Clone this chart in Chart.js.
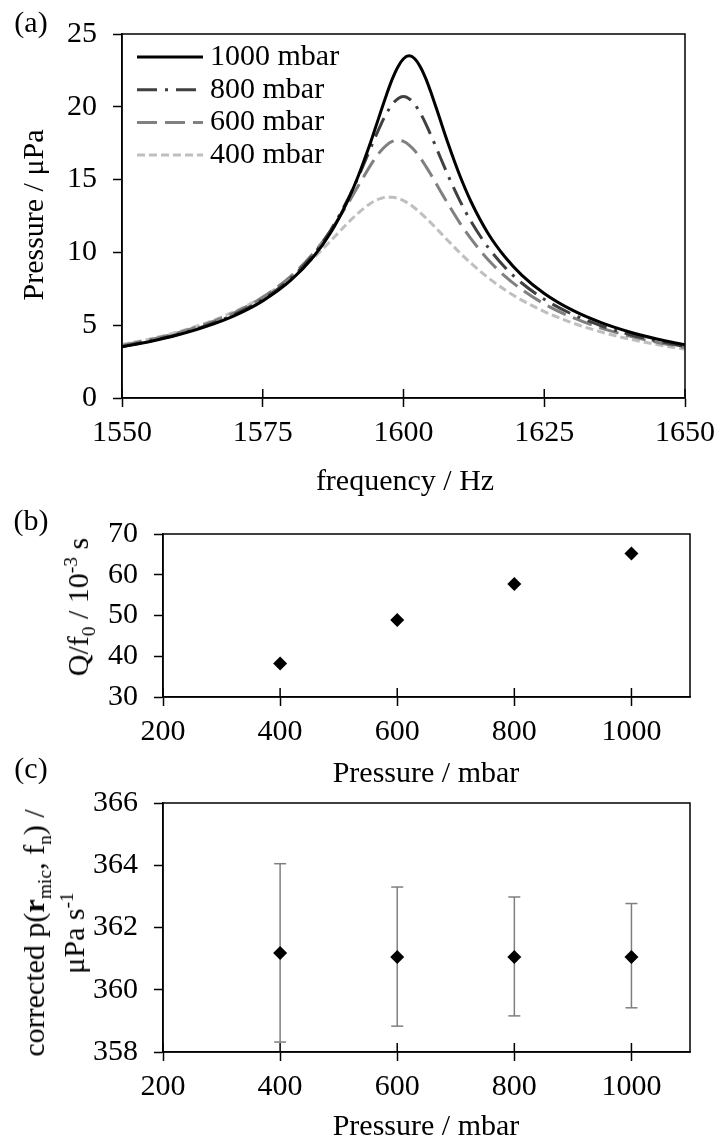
<!DOCTYPE html>
<html>
<head>
<meta charset="utf-8">
<title>Resonance vs pressure</title>
<script src="https://cdn.jsdelivr.net/npm/chart.js@4.4.1/dist/chart.umd.min.js"></script>
<style>
  html, body { margin: 0; padding: 0; background: #fff; }
  body { width: 723px; height: 1144px; position: relative; overflow: hidden;
         font-family: "Liberation Serif", "Times New Roman", serif; color: #000; }
  canvas { position: absolute; left: 0; }
  .lbl { position: absolute; font-size: 30px; line-height: 1; white-space: nowrap;
         transform: translate(-50%, -50%); }
  .rot { transform: translate(-50%, -50%) rotate(-90deg); text-align: center; }
  sub, sup { font-size: 0.65em; line-height: 0; }
</style>
</head>
<body>
<canvas id="chartA" width="723" height="500" style="top:0"></canvas>
<canvas id="chartB" width="723" height="260" style="top:500px"></canvas>
<canvas id="chartC" width="723" height="384" style="top:760px"></canvas>

<div class="lbl" style="left:31px;top:22px">(a)</div>
<div class="lbl" style="left:31px;top:520px">(b)</div>
<div class="lbl" style="left:31px;top:768px">(c)</div>

<div class="lbl rot" style="left:33px;top:215px">Pressure / μPa</div>
<div class="lbl" style="left:405px;top:480px">frequency / Hz</div>

<div class="lbl rot" style="left:78px;top:607px">Q/f<sub>0</sub> / 10<sup>-3</sup> s</div>
<div class="lbl" style="left:426px;top:772px">Pressure / mbar</div>

<div class="lbl rot" style="left:54px;top:933px;line-height:40px">corrected p(<b>r</b><sub>mic</sub>, f<sub>n</sub>) /<br>μPa s<sup>-1</sup></div>
<div class="lbl" style="left:426px;top:1125px">Pressure / mbar</div>

<script>
// --- Datos del panel (a): espectros de resonancia ---
const freq = [1550, 1555, 1560, 1565, 1570, 1575, 1580, 1584, 1587, 1590, 1592, 1594,
              1595, 1596, 1597, 1598, 1599, 1600, 1601, 1602, 1603, 1604, 1605, 1606,
              1608, 1610, 1612, 1615, 1618, 1621, 1625, 1630, 1635, 1640, 1645, 1650];
const p1000 = [3.51, 3.88, 4.34, 4.92, 5.66, 6.67, 8.09, 9.70, 11.32, 13.48, 15.28, 17.39,
               18.54, 19.71, 20.85, 21.90, 22.74, 23.30, 23.50, 23.30, 22.74, 21.90, 20.85, 19.71,
               17.39, 15.28, 13.48, 11.32, 9.70, 8.44, 7.18, 6.03, 5.19, 4.55, 4.05, 3.65];
const p800 = [3.54, 3.92, 4.38, 4.98, 5.75, 6.78, 8.23, 9.86, 11.49, 13.56, 15.21, 17.02,
              17.93, 18.80, 19.56, 20.17, 20.56, 20.70, 20.56, 20.17, 19.56, 18.80, 17.93, 17.02,
              15.21, 13.56, 12.12, 10.36, 8.98, 7.90, 6.78, 5.75, 4.98, 4.38, 3.92, 3.54];
const p600 = [3.61, 4.00, 4.48, 5.09, 5.87, 6.92, 8.37, 9.95, 11.46, 13.27, 14.59, 15.89,
              16.48, 16.98, 17.37, 17.62, 17.70, 17.62, 17.37, 16.98, 16.48, 15.89, 15.26, 14.59,
              13.27, 12.03, 10.93, 9.51, 8.37, 7.45, 6.46, 5.53, 4.82, 4.27, 3.83, 3.47];
const p400 = [3.67, 4.06, 4.55, 5.16, 5.94, 6.94, 8.27, 9.61, 10.77, 11.98, 12.72, 13.33,
              13.56, 13.71, 13.79, 13.79, 13.71, 13.56, 13.33, 13.05, 12.72, 12.36, 11.98, 11.58,
              10.77, 9.98, 9.25, 8.27, 7.43, 6.72, 5.94, 5.16, 4.55, 4.06, 3.67, 3.34];
const seriesLabels = ['1000 mbar', '800 mbar', '600 mbar', '400 mbar'];
const freqTicks = [1550, 1575, 1600, 1625, 1650];
const pressureAxisTicks = [0, 5, 10, 15, 20, 25];

// --- Datos de los paneles (b) y (c) ---
const pressures = [400, 600, 800, 1000];
const qOverF0 = [38.2, 48.9, 57.7, 65.2];
const corrected = [361.18, 361.05, 361.05, 361.05];
const correctedLow = [358.32, 358.83, 359.16, 359.42];
const correctedHigh = [364.05, 363.30, 362.98, 362.77];
const mbarTicks = [200, 400, 600, 800, 1000];
const qTicks = [30, 40, 50, 60, 70];
const corrTicks = [358, 360, 362, 364, 366];

document.addEventListener('DOMContentLoaded', function() {
    Chart.defaults.font.family = '"Liberation Serif", "Times New Roman", serif';
    Chart.defaults.font.size = 30;
    Chart.defaults.color = '#000';

    // Marco completo y marcas del eje x que cruzan el eje
    const framePlugin = {
        id: 'frame',
        afterDraw(chart) {
            const { ctx, chartArea: a, scales } = chart;
            ctx.save();
            ctx.strokeStyle = '#000';
            ctx.lineWidth = 1.5;
            ctx.strokeRect(a.left, a.top, a.right - a.left, a.bottom - a.top);
            scales.x.ticks.forEach(t => {
                const px = scales.x.getPixelForValue(t.value);
                ctx.beginPath();
                ctx.moveTo(px, a.bottom);
                ctx.lineTo(px, a.bottom - 9);
                ctx.stroke();
            });
            ctx.restore();
        }
    };

    // Leyenda dentro del área de la gráfica (arriba a la izquierda)
    const insideLegend = {
        id: 'insideLegend',
        afterDraw(chart) {
            const { ctx, chartArea: a } = chart;
            ctx.save();
            ctx.font = '30px "Liberation Serif"';
            ctx.textBaseline = 'middle';
            ctx.fillStyle = '#000';
            chart.data.datasets.forEach((ds, i) => {
                const y = a.top + 23 + i * 32.7;
                ctx.strokeStyle = ds.borderColor;
                ctx.lineWidth = ds.borderWidth;
                ctx.setLineDash(ds.borderDash || []);
                ctx.beginPath();
                ctx.moveTo(a.left + 15, y);
                ctx.lineTo(a.left + 81, y);
                ctx.stroke();
                ctx.setLineDash([]);
                ctx.fillText(ds.label, a.left + 88, y);
            });
            ctx.restore();
        }
    };

    function xAxis(min, max, ticks, height) {
        return {
            type: 'linear', min: min, max: max,
            afterBuildTicks: s => { s.ticks = ticks.map(v => ({ value: v })); },
            afterFit: s => { s.height = height; },
            grid: { drawOnChartArea: false, tickLength: 9, tickWidth: 1.5, tickColor: '#000' },
            border: { color: '#000', width: 1.5 },
            ticks: { padding: 8, maxRotation: 0, autoSkip: false, callback: v => String(v) }
        };
    }

    function yAxis(min, max, ticks, width) {
        return {
            min: min, max: max,
            afterBuildTicks: s => { s.ticks = ticks.map(v => ({ value: v })); },
            afterFit: s => { s.width = width; },
            grid: { drawOnChartArea: false, tickLength: 9, tickWidth: 1.5, tickColor: '#000' },
            border: { color: '#000', width: 1.5 },
            ticks: { padding: 16, autoSkip: false, callback: v => String(v) }
        };
    }

    const baseOptions = {
        responsive: false,
        devicePixelRatio: 1,
        animation: false,
        events: [],
        plugins: { legend: { display: false }, tooltip: { enabled: false } }
    };

    // ---------- Panel (a) ----------
    const styles = [
        { color: '#000000', dash: [] },
        { color: '#404040', dash: [20, 8, 3, 8] },
        { color: '#808080', dash: [20, 8] },
        { color: '#bfbfbf', dash: [8, 4] }
    ];
    const spectra = [p1000, p800, p600, p400];

    new Chart(document.getElementById('chartA'), {
        type: 'scatter',
        data: {
            datasets: spectra.map((vals, k) => ({
                label: seriesLabels[k],
                data: freq.map((f, i) => ({ x: f, y: vals[i] })),
                showLine: true,
                borderColor: styles[k].color,
                borderDash: styles[k].dash,
                borderWidth: 3,
                pointRadius: 0,
                cubicInterpolationMode: 'monotone'
            }))
        },
        options: Object.assign({}, baseOptions, {
            layout: { padding: { top: 32, right: 34, left: 0, bottom: 0 } },
            scales: {
                x: xAxis(1550, 1650, freqTicks, 102),
                y: yAxis(0, 25, pressureAxisTicks, 122)
            }
        }),
        plugins: [framePlugin, insideLegend]
    });

    // ---------- Panel (b) ----------
    new Chart(document.getElementById('chartB'), {
        type: 'scatter',
        data: {
            datasets: [{
                data: pressures.map((p, i) => ({ x: p, y: qOverF0[i] })),
                pointStyle: 'rectRot',
                pointRadius: 7,
                backgroundColor: '#000',
                borderColor: '#000',
                borderWidth: 0
            }]
        },
        options: Object.assign({}, baseOptions, {
            layout: { padding: { top: 18, right: 33, left: 0, bottom: 0 } },
            scales: {
                x: xAxis(200, 1100, mbarTicks, 63),
                y: yAxis(30, 70, qTicks, 163)
            }
        }),
        plugins: [framePlugin]
    });

    // ---------- Panel (c) ----------
    const errorBars = pressures.map((p, i) => ({
        data: [{ x: p, y: correctedLow[i] }, { x: p, y: correctedHigh[i] }],
        showLine: true,
        borderColor: '#7f7f7f',
        borderWidth: 1.5,
        pointStyle: 'line',
        pointRadius: 6,
        pointBorderColor: '#7f7f7f',
        pointBorderWidth: 1.5,
        order: 2
    }));

    new Chart(document.getElementById('chartC'), {
        type: 'scatter',
        data: {
            datasets: [{
                data: pressures.map((p, i) => ({ x: p, y: corrected[i] })),
                pointStyle: 'rectRot',
                pointRadius: 7,
                backgroundColor: '#000',
                borderColor: '#000',
                borderWidth: 0,
                order: 1
            }].concat(errorBars)
        },
        options: Object.assign({}, baseOptions, {
            layout: { padding: { top: 43, right: 33, left: 0, bottom: 0 } },
            scales: {
                x: xAxis(200, 1100, mbarTicks, 92),
                y: yAxis(358, 366, corrTicks, 163)
            }
        }),
        plugins: [framePlugin]
    });
});
</script>
</body>
</html>
